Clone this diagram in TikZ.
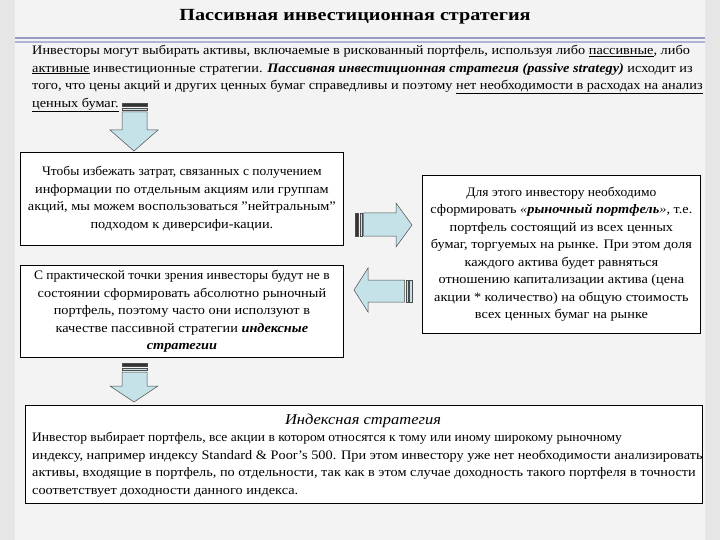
\documentclass[tikz,border=0pt]{standalone}
\usepackage{fontspec}
\setmainfont{Liberation Serif}[FakeStretch=1.1]
\newfontfamily\narrowfont{Liberation Serif}[FakeStretch=1.04]
\begin{document}
\begin{tikzpicture}[x=1pt,y=-1pt,
  txt/.style={font=\fontsize{13}{17.5}\selectfont,inner sep=0pt},
  box/.style={draw=black,line width=0.8pt,fill=white},
  arr/.style={draw=black!70,line width=0.5pt,fill=arrowc}]
\definecolor{arrowc}{HTML}{C4E2E8}
\definecolor{bg}{HTML}{E6E6E6}
\useasboundingbox (0,0) rectangle (720,540);
\fill[bg] (0,0) rectangle (720,540);
\fill[white!50!bg] (15,0) rectangle (705,540);
% title
\node[font=\bfseries\fontsize{17}{18}\selectfont,xscale=1.08] (title) at (355,17) {Пассивная инвестиционная стратегия};
\fill[black!60!blue!40] (15,37) rectangle (705,39);
\fill[black!50!blue!30] (15,41) rectangle (705,43);
\node[txt,anchor=north west,align=left] (para) at (32,45) {Инвесторы могут выбирать активы, включаемые в рискованный портфель, используя либо \underline{пассивные}, либо\\
\underline{активные} инвестиционные стратегии. \textbf{\textit{Пассивная инвестиционная стратегия (passive strategy)}} исходит из\\
того, что цены акций и других ценных бумаг справедливы и поэтому \underline{нет необходимости в расходах на анализ}\\
\underline{ценных бумаг.}};
% arrow 1
\draw[arr,fill=black!80] (122,103) rectangle (147,106);
\draw[arr] (122,108) rectangle (147,110);
\draw[arr] (122,112) -- (147,112) -- (147,130) -- (158,130) -- (134,151) -- (110,130) -- (122,130) -- cycle;
% boxes
\node[box,minimum width=323pt,minimum height=93pt,anchor=north west,txt,align=center] (b1) at (20,152) {\narrowfont Чтобы избежать затрат, связанных с получением\\информации по отдельным акциям или группам\\акций, мы можем воспользоваться "нейтральным"\\подходом к диверсифи-кации.};
\node[box,minimum width=323pt,minimum height=92pt,anchor=north west,txt,align=center] (b2) at (20,265) {\narrowfont С практической точки зрения инвесторы будут не в\\состоянии сформировать абсолютно рыночный\\портфель, поэтому часто они исползуют в\\качестве пассивной стратегии \textbf{\textit{индексные}}\\\textbf{\textit{стратегии}}};
\node[box,minimum width=278pt,minimum height=158pt,anchor=north west,txt,align=center] (b3) at (422,175) {\narrowfont Для этого инвестору необходимо\\сформировать \textit{«\textbf{рыночный портфель}»}, т.е.\\портфель состоящий из всех ценных\\бумаг, торгуемых на рынке. При этом доля\\каждого актива будет равняться\\отношению капитализации актива (цена\\акции * количество) на общую стоимость\\всех ценных бумаг на рынке};
% right arrow
\draw[arr,fill=black!80] (355,213) rectangle (358.5,236);
\draw[arr] (360,213) rectangle (362,236);
\draw[arr] (363.5,213) -- (396,213) -- (396,203) -- (412,225) -- (396,247) -- (396,236) -- (363.5,236) -- cycle;
% left arrow
\draw[arr] (409.5,280) rectangle (412,302);
\draw[arr] (406,280) rectangle (408,302);
\draw[arr] (404.5,280) -- (368,280) -- (368,268) -- (354,290) -- (368,312) -- (368,302) -- (404.5,302) -- cycle;
% arrow 2
\draw[arr,fill=black!80] (122,363) rectangle (147,366);
\draw[arr] (122,368) rectangle (147,370);
\draw[arr] (122,372) -- (147,372) -- (147,386) -- (158,386) -- (134,402) -- (110,386) -- (122,386) -- cycle;
% bottom box
\node[box,minimum width=677pt,minimum height=98pt,anchor=north west] (b4) at (25,405) {};
\node[font=\itshape\fontsize{15}{16}\selectfont] (t4) at (363,421) {Индексная стратегия};
\node[txt,anchor=north west,align=left] (p4) at (32,432) {\narrowfont Инвестор выбирает портфель, все акции в котором относятся к тому или иному широкому рыночному\\индексу, например индексу Standard \& Poor's 500. При этом инвестору уже нет необходимости анализировать\\активы, входящие в портфель, по отдельности, так как в этом случае доходность такого портфеля в точности\\соответствует доходности данного индекса.};
\end{tikzpicture}
\end{document}
